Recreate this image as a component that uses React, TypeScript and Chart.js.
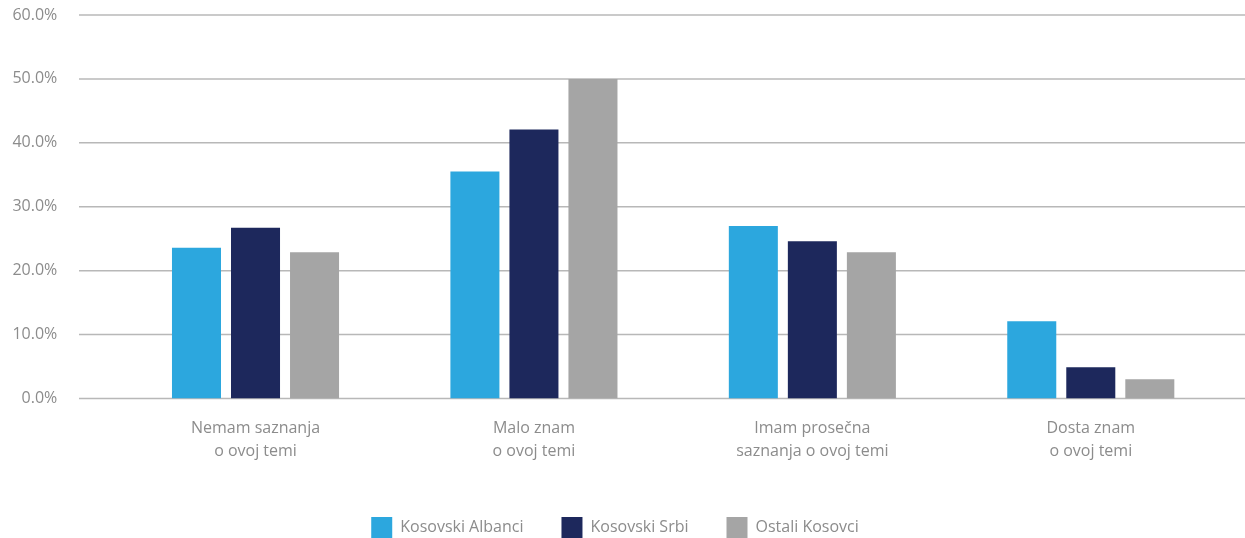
import React, { useEffect, useRef } from "react";
import { Chart, registerables } from "chart.js";

Chart.register(...registerables);

const categories: string[][] = [
  ["Nemam saznanja", "o ovoj temi"],
  ["Malo znam", "o ovoj temi"],
  ["Imam prosečna", "saznanja o ovoj temi"],
  ["Dosta znam", "o ovoj temi"],
];
const seriesNames = ["Kosovski Albanci", "Kosovski Srbi", "Ostali Kosovci"];
const albanci = [23.6, 35.5, 27.0, 12.1];
const srbi = [26.7, 42.1, 24.6, 4.9];
const ostali = [22.9, 50.0, 22.9, 3.0];
const colors = ["#2ca7de", "#1d285c", "#a5a5a5"];

const FONT = "'Open Sans', 'Noto Sans', sans-serif";
const TEXT = "#8c8c8c";
const LEGEND_PAD = 38;
const CANVAS_H = 548;

const gridPlugin = {
  id: "extendedGrid",
  beforeDatasetsDraw(chart: any) {
    const y = chart.scales.y;
    const ctx = chart.ctx;
    ctx.save();
    ctx.strokeStyle = "#b8b8b8";
    ctx.lineWidth = 1.5;
    y.ticks.forEach((t: any) => {
      const py = y.getPixelForValue(t.value);
      ctx.beginPath();
      ctx.moveTo(79, py);
      ctx.lineTo(chart.width, py);
      ctx.stroke();
    });
    ctx.restore();
  },
};

export default function App() {
  const ref = useRef<HTMLCanvasElement>(null);
  useEffect(() => {
    if (!ref.current) return;
    const chart = new Chart(ref.current, {
      type: "bar",
      data: {
        labels: categories,
        datasets: [
          { label: seriesNames[0], data: albanci, backgroundColor: colors[0] },
          { label: seriesNames[1], data: srbi, backgroundColor: colors[1] },
          { label: seriesNames[2], data: ostali, backgroundColor: colors[2] },
        ],
      },
      options: {
        animation: false,
        responsive: false,
        maintainAspectRatio: false,
        layout: { padding: { top: 15, right: 15, bottom: 0, left: 0 } },
        datasets: {
          bar: { barPercentage: 49 / 59, categoryPercentage: 177 / 278.3 },
        },
        scales: {
          x: {
            grid: { display: false, drawTicks: false },
            border: { display: false },
            ticks: {
              color: TEXT,
              font: { family: FONT, size: 16, lineHeight: 1.4 },
              padding: 19,
              maxRotation: 0,
              autoSkip: false,
            },
            afterFit(scale: any) {
              scale.height = CANVAS_H - (31 + LEGEND_PAD) - 398.5;
            },
          },
          y: {
            min: 0,
            max: 60,
            grid: { display: false, drawTicks: false },
            border: { display: false },
            ticks: {
              stepSize: 10,
              color: TEXT,
              font: { family: FONT, size: 16 },
              padding: 59,
              callback: (v: any) => Number(v).toFixed(1) + "%",
            },
            afterFit(scale: any) {
              scale.width = 116.3;
              scale.paddingTop = 0;
              scale.paddingBottom = 0;
            },
          },
        },
        plugins: {
          legend: {
            position: "bottom",
            labels: {
              boxWidth: 21,
              boxHeight: 21,
              padding: LEGEND_PAD,
              color: TEXT,
              font: { family: FONT, size: 16 },
            },
          },
          tooltip: { enabled: false },
        },
      },
      plugins: [gridPlugin],
    });
    return () => chart.destroy();
  }, []);
  return (
    <div style={{ position: "fixed", left: 0, top: 0, width: 1245, height: 538, overflow: "hidden", background: "#fff" }}>
      <canvas ref={ref} width={1245} height={CANVAS_H} style={{ width: 1245, height: CANVAS_H, display: "block" }} />
    </div>
  );
}
